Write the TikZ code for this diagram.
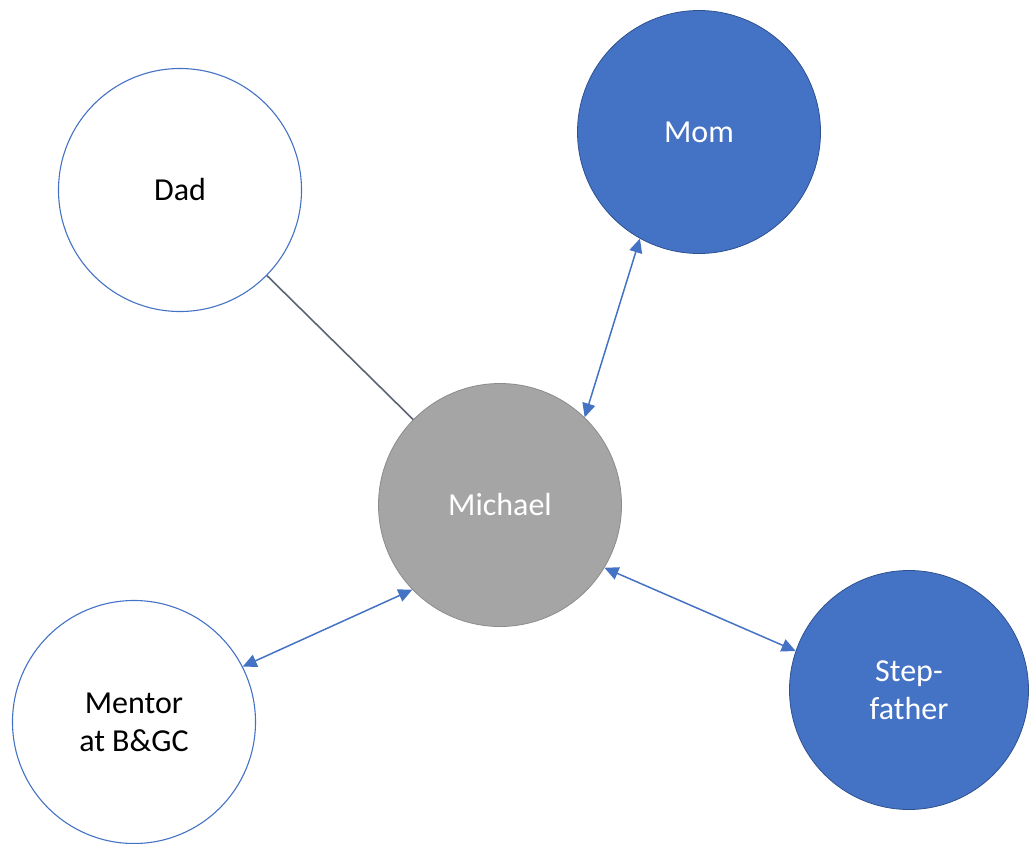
\documentclass[tikz,border=0pt]{standalone}
\usepackage{fontspec}
\setmainfont{Carlito}
\usetikzlibrary{arrows.meta}
\definecolor{accent}{HTML}{4472C4}
\definecolor{accentdark}{HTML}{2F528F}
\definecolor{greyfill}{HTML}{A5A5A5}
\definecolor{greyline}{HTML}{8C8C8C}
\definecolor{slate}{HTML}{5A6472}
\tikzset{
  person/.style={circle, minimum size=243pt, inner sep=0pt, align=center,
    font=\fontsize{32}{38}\selectfont},
  outlined/.style={person, draw=accent, line width=1.1pt, fill=white, text=black},
  filled/.style={person, draw=accentdark, line width=0.8pt, fill=accent, text=white},
  centre/.style={person, draw=greyline, line width=0.8pt, fill=greyfill, text=white},
  tie/.style={draw=slate, line width=1.6pt},
  mutual/.style={draw=accent, line width=1.5pt,
    {Triangle[length=14pt,width=13pt]}-{Triangle[length=14pt,width=13pt]}}
}
\begin{document}
\begin{tikzpicture}[x=1pt,y=-1pt]
  \useasboundingbox (0,0) rectangle (1029,844);
  \node[outlined] (dad) at (180,190) {Dad};
  \node[filled] (mom) at (699,132) {Mom};
  \node[centre] (michael) at (500,505) {Michael};
  \node[outlined] (mentor) at (134,722) {Mentor\\at B\&GC};
  \node[filled, minimum size=239pt] (step) at (909,690) {Step-\\father};
  \draw[tie] (dad) -- (michael);
  \draw[mutual] (mom.-119) -- (michael.46);
  \draw[mutual] (mentor.27) -- (michael.224);
  \draw[mutual] (michael.-31) -- (step.161);
\end{tikzpicture}
\end{document}
